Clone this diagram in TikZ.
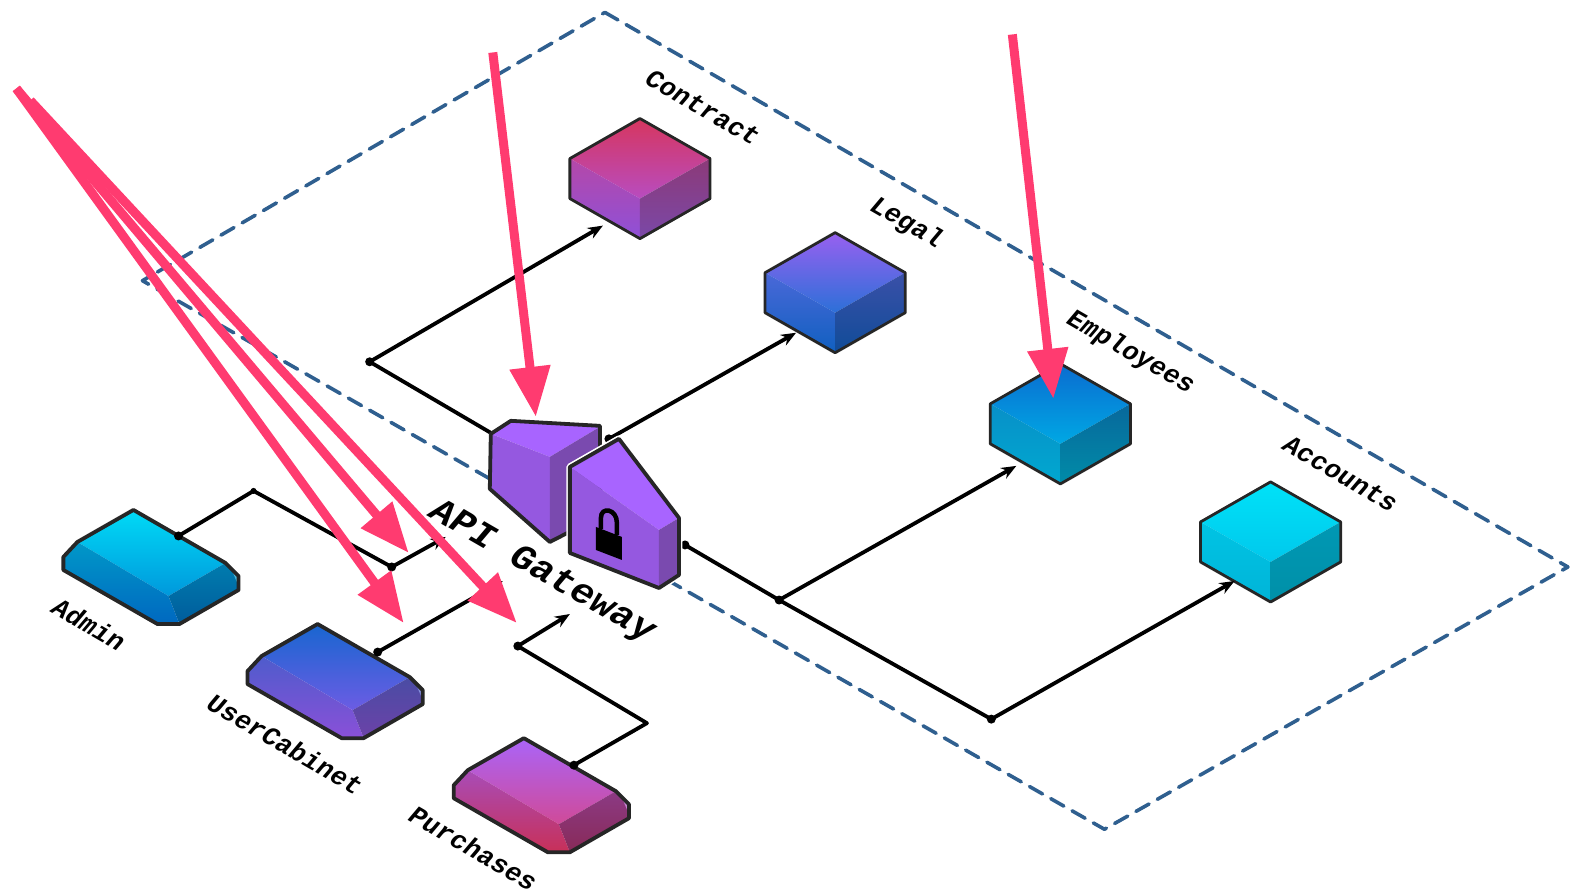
\documentclass[tikz,border=0pt]{standalone}
\usepackage{fontspec}
\setmonofont{Liberation Mono}
\usetikzlibrary{arrows.meta}
\definecolor{pinkc}{HTML}{FF3B70}
\definecolor{dashc}{HTML}{2F5F8F}
\definecolor{edgec}{HTML}{262626}
\definecolor{gwTop}{HTML}{A864FF}
\definecolor{gwLeft}{HTML}{9558E0}
\definecolor{gwRight}{HTML}{7A4AAF}
\tikzset{
  boundary/.style={draw=dashc,line width=3.6pt,dash pattern=on 15pt off 9.5pt,line cap=round,line join=round},
  link/.style={draw=black,line width=3.8pt,line join=round},
  linkarrow/.style={link,-{Stealth[length=15pt,width=12pt]}},
  dotn/.style={circle,fill=black,inner sep=0pt,minimum size=9pt},
  pinkarrow/.style={draw=pinkc,line width=9pt,-{Triangle[length=50pt,width=39pt]}},
  outline/.style={draw=edgec,line width=2.8pt,line join=round},
  thickoutline/.style={draw=edgec,line width=3.8pt,line join=round},
  isolabel/.style={font=\ttfamily\bfseries\fontsize{24}{24}\selectfont,transform shape,cm={0.95,-0.55,0.72,0.85,(0,0)},inner sep=0pt,anchor=center},
  isotitle/.style={font=\ttfamily\bfseries\fontsize{32}{32}\selectfont,transform shape,cm={1.04,-0.60,0.74,0.87,(0,0)},inner sep=0pt,anchor=center},
}
\newcommand{\setfacecolors}[6]{%
  \definecolor{fa}{HTML}{#1}\definecolor{fb}{HTML}{#2}\definecolor{fc}{HTML}{#3}%
  \definecolor{fd}{HTML}{#4}\definecolor{fe}{HTML}{#5}\definecolor{ff}{HTML}{#6}}
% #1 x, #2 y of top corner; colours come from \setfacecolors
\newcommand{\isocube}[2]{%
  \begin{scope}[shift={(#1,#2)}]
    \shade[top color=fa,bottom color=fb] (0,0) -- (-70,40) -- (0,80) -- (70,40) -- cycle;
    \shade[top color=fc,bottom color=fd] (-70,40) -- (0,80) -- (0,120) -- (-70,80) -- cycle;
    \shade[top color=fe,bottom color=ff] (70,40) -- (0,80) -- (0,120) -- (70,80) -- cycle;
    \draw[outline] (0,0) -- (70,40) -- (70,80) -- (0,120) -- (-70,80) -- (-70,40) -- cycle;
  \end{scope}}
\newcommand{\isoclient}[2]{%
  \begin{scope}[shift={(#1,#2)}]
    \shade[top color=fa,bottom color=fb] (0,0) -- (92,53) -- (35,86) -- (-56,32) -- cycle;
    \shade[top color=fc,bottom color=fd] (-56,32) -- (35,86) -- (46,114) -- (24,114) -- (-70,60) -- (-70,47) -- cycle;
    \shade[top color=fe,bottom color=ff] (35,86) -- (92,53) -- (105,66) -- (105,80) -- (46,114) -- cycle;
    \fill[fc!70!white] (97,57) -- (105,66) -- (105,76) -- cycle;
    \draw[thickoutline] (0,0) -- (92,53) -- (105,66) -- (105,80) -- (46,114) -- (24,114) -- (-70,60) -- (-70,47) -- (-56,32) -- cycle;
  \end{scope}}
\begin{document}
\begin{tikzpicture}[x=1pt,y=-1pt]
\useasboundingbox (0,0) rectangle (1570,892);
\begin{scope}[x=1.001pt,y=-1.001pt,shift={(0.3,0.4)}]
% named corners
\coordinate (zoneA) at (604,12);
\coordinate (zoneB) at (1566,566);
\coordinate (zoneC) at (1103,828);
\coordinate (zoneD) at (142,280);
\draw[boundary] (zoneA) -- (zoneB) -- (zoneC) -- (zoneD) -- cycle;

% cubes
\setfacecolors{D6365F}{B84CC0}{B548A8}{8E50D8}{8C3A78}{7A48A8}\isocube{639}{118}
\setfacecolors{9860F0}{2C70D8}{4A68D8}{1060C0}{3A50A8}{104C98}\isocube{834}{232}
\setfacecolors{0A6CD0}{00A8E4}{0890C8}{00A8D0}{08689C}{008CA8}\isocube{1059}{363}
\setfacecolors{00E2F8}{00C8EC}{00C4E4}{00B4D8}{0098B4}{0090A8}\isocube{1269}{481}
\node[isolabel] (contract) at (702,107) {Contract};
\node[isolabel] (legal) at (905,223) {Legal};
\node[isolabel] (employees) at (1129,352) {Employees};
\node[isolabel] (accounts) at (1339,473) {Accounts};

% clients
\setfacecolors{00DAF6}{0098DC}{0098C8}{0068C0}{007CAE}{005C9C}\isoclient{133}{509}
\setfacecolors{1866D0}{6C5CE4}{4E5CCC}{8A50D8}{4A4CA4}{6C42A8}\isoclient{317}{623}
\setfacecolors{AA64F8}{D04A98}{A84CB8}{C83058}{8C3A84}{882A58}\isoclient{523}{737}
\node[isolabel] (admin) at (89,623) {Admin};
\node[isolabel] (usercabinet) at (285,743) {UserCabinet};
\node[isolabel] (purchases) at (473,847) {Purchases};

% connector junctions
\node[dotn] (j1) at (369,361) {};
\coordinate (gwBack) at (490,432);
\coordinate (toContract) at (602,225);
\node[dotn] (j2) at (608,438) {};
\coordinate (toLegal) at (795,332);
\node[dotn] (j3) at (684,544) {};
\node[dotn] (j4) at (778,599) {};
\node[dotn] (j5) at (990,718) {};
\coordinate (toEmployees) at (1015,465);
\coordinate (toAccounts) at (1233,580);
\node[dotn] (a1) at (178,535) {};
\node[dotn,minimum size=6pt] (a2) at (253,490) {};
\node[dotn] (a3) at (391,566) {};
\coordinate (toGwA) at (445,536);
\node[dotn] (u1) at (377,651) {};
\coordinate (toGwU) at (502,580);
\node[dotn] (p1) at (573,764) {};
\coordinate (p2) at (646,722);
\node[dotn] (p3) at (517,645) {};
\coordinate (toGwP) at (569,613);

\draw[link] (gwBack) -- (j1.center);
\draw[linkarrow] (j1.center) -- (toContract);
\draw[linkarrow] (j2.center) -- (toLegal);
\draw[link] (j3.center) -- (j4.center) -- (j5.center);
\draw[linkarrow] (j4.center) -- (toEmployees);
\draw[linkarrow] (j5.center) -- (toAccounts);
\draw[link] (a1.center) -- (a2.center) -- (a3.center);
\draw[linkarrow] (a3.center) -- (toGwA);
\draw[linkarrow] (u1.center) -- (toGwU);
\draw[link] (p1.center) -- (p2) -- (p3.center);
\draw[linkarrow] (p3.center) -- (toGwP);

\node[isotitle] (gwtitle) at (541,571) {API Gateway};

% gateway, back piece
\fill[gwTop] (490,433) -- (510,420) -- (599,426) -- (549,456) -- cycle;
\fill[gwLeft] (490,433) -- (549,456) -- (549,541) -- (489,488) -- cycle;
\fill[gwRight] (549,456) -- (599,426) -- (599,520) -- (549,541) -- cycle;
\draw[thickoutline] (599,500) -- (599,425) -- (510,420) -- (490,433) -- (489,488) -- (549,541) -- (590,520);
% gateway, front piece
\draw[draw=white,line width=7pt,line join=round] (569,466) -- (618,438) -- (678,517) -- (678,574) -- (658,587) -- (569,552) -- cycle;
\fill[gwTop] (569,466) -- (618,438) -- (678,517) -- (658,529) -- cycle;
\fill[gwLeft] (569,466) -- (658,529) -- (658,587) -- (569,552) -- cycle;
\fill[gwRight] (658,529) -- (678,517) -- (678,574) -- (658,587) -- cycle;
\draw[thickoutline] (569,466) -- (618,438) -- (678,517) -- (678,574) -- (658,587) -- (569,552) -- cycle;
% padlock
\fill[black] (595,526) -- (621,536) -- (621,559) -- (595,549) -- cycle;
\draw[black,line width=4.5pt] (600,528) -- (600,517) .. controls (600,505) and (616,508) .. (616,522) -- (616,534);

% pink arrows
\coordinate (s1) at (492,52);
\coordinate (t1) at (535,416);
\coordinate (s2) at (1011,34);
\coordinate (t2) at (1052,398);
\coordinate (s3) at (16,88);
\coordinate (t3) at (408,552);
\coordinate (t4) at (403,622);
\coordinate (s5) at (30,100);
\coordinate (t5) at (516,622);
\draw[pinkarrow] (s1) -- (t1);
\draw[pinkarrow] (s2) -- (t2);
\draw[pinkarrow] (s3) -- (t3);
\draw[pinkarrow] (s3) -- (t4);
\draw[pinkarrow] (s5) -- (t5);
\end{scope}
\end{tikzpicture}
\end{document}
